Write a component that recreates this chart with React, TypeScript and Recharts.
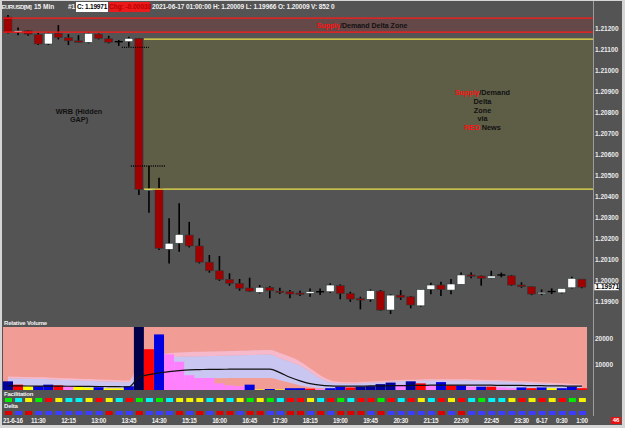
import React from "react";
import {
  ComposedChart,
  Bar,
  Area,
  Line,
  XAxis,
  YAxis,
  ReferenceArea,
  ReferenceLine,
  CartesianGrid,
  Cell,
} from "recharts";

const FONT = "'Liberation Sans', Arial, Helvetica, sans-serif";

// EURUSD 15 min, 2021-06-16 10:45 -> 2021-06-17 01:00 (58 bars)
const opens = [
  1.21257, 1.21186, 1.21192, 1.21174, 1.21129, 1.2118, 1.21159, 1.21144, 1.21137, 1.21176,
  1.21154, 1.2114, 1.2114, 1.21156, 1.20433, 1.20441, 1.20151, 1.2018, 1.20219, 1.20167,
  1.2009, 1.20049, 1.20008, 1.19989, 1.19967, 1.19946, 1.1997, 1.19952, 1.19949, 1.19943,
  1.19941, 1.19949, 1.19949, 1.19978, 1.19941, 1.19916, 1.19913, 1.19952, 1.19862, 1.19933,
  1.19925, 1.19882, 1.1996, 1.19981, 1.19957, 1.19984, 1.20029, 1.20024, 1.20014, 1.20029,
  1.20025, 1.19981, 1.19973, 1.19941, 1.1995, 1.19944, 1.19968, 1.20009,
];
const highs = [
  1.21267, 1.21207, 1.21195, 1.21182, 1.21186, 1.21219, 1.21176, 1.21171, 1.21186, 1.21179,
  1.21168, 1.21148, 1.21163, 1.21157, 1.20548, 1.20492, 1.20299, 1.2037, 1.20282, 1.20203,
  1.20124, 1.20119, 1.20037, 1.2001, 1.20016, 1.19981, 1.19976, 1.19968, 1.19957, 1.19954,
  1.19965, 1.19965, 1.19989, 1.19984, 1.19949, 1.19925, 1.1996, 1.19957, 1.19937, 1.19957,
  1.19929, 1.19962, 1.19992, 1.19997, 1.2001, 1.20041, 1.20041, 1.20026, 1.20049, 1.2004,
  1.20029, 1.19994, 1.19974, 1.1996, 1.19965, 1.19967, 1.20021, 1.20009,
];
const lows = [
  1.21179, 1.21171, 1.21168, 1.21124, 1.21124, 1.21151, 1.21124, 1.21135, 1.21132, 1.21151,
  1.21132, 1.2112, 1.21116, 1.2041, 1.20325, 1.20148, 1.20084, 1.2014, 1.2016, 1.20084,
  1.2004, 1.20001, 1.19978, 1.19954, 1.19949, 1.19941, 1.19918, 1.19938, 1.19918, 1.19929,
  1.19925, 1.19933, 1.19944, 1.19913, 1.19901, 1.19865, 1.19901, 1.19859, 1.19843, 1.1991,
  1.1987, 1.19878, 1.19937, 1.19929, 1.19937, 1.19981, 1.20013, 1.19978, 1.20013, 1.20018,
  1.19978, 1.19968, 1.19933, 1.19933, 1.19938, 1.19941, 1.19965, 1.19966,
];
const closes = [
  1.21183, 1.21192, 1.21176, 1.21129, 1.2118, 1.2116, 1.21144, 1.21137, 1.2118, 1.21156,
  1.21137, 1.21139, 1.21156, 1.20437, 1.20438, 1.20156, 1.2018, 1.20222, 1.20167, 1.2009,
  1.20049, 1.20008, 1.19989, 1.19965, 1.19952, 1.1997, 1.19954, 1.19946, 1.19938, 1.1994,
  1.19949, 1.19948, 1.19981, 1.19941, 1.19914, 1.1991, 1.19954, 1.19862, 1.19933, 1.19922,
  1.19886, 1.1996, 1.19981, 1.1996, 1.19986, 1.20029, 1.20027, 1.20013, 1.20024, 1.20028,
  1.19981, 1.19973, 1.19938, 1.19946, 1.19949, 1.19965, 1.20013, 1.19971,
];

const volumes = [
  3400, 2100, 1500, 1500, 2100, 1800, 1500, 1300, 900, 1100, 600, 600, 1500,
  24700, 16000, 21800, 14000, 11100, 5800, 4700, 4700, 2600, 1800, 1500, 2100,
  200, 400, 200, 700, 700, 500, 300, 700, 1300, 1000,
  1300, 1500, 2300, 2900, 2100, 3400, 2600, 1800, 3100, 1800, 1800, 1300, 1300, 1300,
  1000, 700, 1000, 700, 1000, 700, 700, 1300, 700,
];
// N navy, D dark navy, B blue, R red, V violet, Y yellow
const volumeKinds = "NRYBBRVYYBYYBDRBVVVVVVVVBYBYBBRVBBRNNNNVNRVBRBVBRVVBRBYBBR".split("");

const bandAvg = [
  1600, 1580, 1560, 1540, 1520, 1500, 1470, 1440, 1410, 1380, 1350, 1300, 1250,
  5000, 6000, 6700, 7200, 7600, 7900, 8000, 8100, 8100, 8150, 8200, 8200, 8200, 8200,
  6800, 5000, 3600, 2500, 1900, 1600,
  1500, 1500, 1500, 1600, 1600, 1700, 1700, 1800, 1800, 1900, 1900, 1900, 1900, 1900,
  1900, 1900, 1800, 1800, 1800, 1700, 1700, 1600, 1600, 1500, 1500,
];
const bandLavTop = [
  4600, 4500, 4400, 4300, 4200, 4050, 3900, 3750, 3600, 3450, 3300, 3150, 3000,
  9500, 11500, 12300, 12800, 13000, 13100, 13200, 13300, 13400, 13500, 13600, 13700, 13800, 13900,
  12400, 11100, 9500, 7200, 4600, 3000,
  2600, 2500, 2600, 2800, 3000, 3200, 3400, 3500, 3600, 3700, 3700, 3700, 3700, 3600,
  3500, 3400, 3300, 3100, 2900, 2700, 2500, 2300, 2100, 1900, 1700,
];
const bandPinkTop = [
  5300, 5200, 5100, 5000, 4900, 4750, 4600, 4450, 4300, 4150, 4000, 3850, 3700,
  10500, 12800, 13800, 14400, 14700, 14900, 15000, 15100, 15200, 15300, 15400, 15500, 15600, 15700,
  14500, 13000, 11200, 8500, 5800, 3800,
  3100, 3000, 3100, 3300, 3500, 3700, 3900, 4000, 4100, 4200, 4200, 4200, 4200, 4100,
  4000, 3900, 3800, 3600, 3400, 3200, 3000, 2800, 2600, 2400, 2200,
];
const bandLavBot = [
  500, 500, 500, 500, 500, 500, 500, 500, 500, 500, 500, 500, 500,
  2500, 3000, 3500, 3900, 4200, 4400, 4500, 4600, 4600, 4700, 4700, 4700, 4700, 4700,
  3800, 2800, 1800, 1100, 700, 500,
  500, 500, 500, 500, 500, 500, 500, 500, 500, 500, 500, 500, 500, 500,
  500, 500, 500, 500, 500, 500, 500, 500, 500, 500, 500,
];

// G green, C cyan, Y yellow, R red / B blue
const facilitation = ("GCYGRYCCYRYCRGCGCYYYCYCYGYGCR" + "RYCRGCRRGRCRYCRYRCGCCYRYRYRGY").split("");
const delta = ("RBRBBBBBBBRBBRBBBRBRBRRBRRBBR" + "RBRBRRRBRBBBBBRBRBBBBBBBBBBBB").split("");

const tickIndex = [0, 3, 6, 9, 12, 15, 18, 21, 24, 27, 30, 33, 36, 39, 42, 45, 48, 51, 53, 55, 57];
const tickText = [
  "21-6-16", "11:30", "12:15", "13:00", "13:45", "14:30", "15:15", "16:00", "16:45", "17:30",
  "18:15", "19:00", "19:45", "20:30", "21:15", "22:00", "22:45", "23:30", "6-17", "0:30", "1:00",
];
const priceTicks = [1.212, 1.211, 1.21, 1.209, 1.208, 1.207, 1.206, 1.205, 1.204, 1.203, 1.202, 1.201, 1.2, 1.199];
const volumeTicks = [10000, 20000];

const lastClose = 1.19971;
const supplyZone = [1.21186, 1.21252];
const deltaZone = [1.20438, 1.21152];
const zoneStart = 13.5;
const dottedLevels = [
  { y: 1.21113, from: 11.3, to: 14 },
  { y: 1.20548, from: 12.2, to: 15.6 },
];

const X_DOMAIN: [number, number] = [-0.5, 58.1];

const candles = opens.map((o, i) => ({ i, o, h: highs[i], l: lows[i], c: closes[i] }));
const volData = volumes.map((v, i) => ({
  i,
  v,
  avg: bandAvg[i],
  lav: [bandLavBot[i], bandLavTop[i]],
  pink: [bandLavTop[i], bandPinkTop[i]],
}));
const rowData = facilitation.map((f, i) => ({ i, one: 1, f, d: delta[i] }));

const volColor: Record<string, string> = {
  N: "#00009a",
  D: "#00004a",
  B: "#0000e0",
  R: "#ff0000",
  V: "#ff80ff",
  Y: "#ffff00",
};
const facColor: Record<string, string> = { G: "#00ee00", C: "#00f4f4", Y: "#f4f400", R: "#ff0000" };
const deltaColor: Record<string, string> = { R: "#dd0000", B: "#3c3cff" };

function Candle(props: any) {
  const { x, y, width, height, payload } = props;
  if (!payload) return null;
  const { o, h, l, c } = payload;
  const top = Math.min(y, y + height);
  const span = Math.abs(height);
  const py = (p: number) => (h === l ? top : top + ((h - p) / (h - l)) * span);
  const cx = x + width / 2;
  const up = c >= o;
  const bTop = py(Math.max(o, c));
  const bBot = py(Math.min(o, c));
  const doji = Math.abs(o - c) <= 0.00002;
  return (
    <g>
      <line x1={cx} x2={cx} y1={top} y2={top + span} stroke="#000" strokeWidth={1.6} />
      {doji ? (
        <line x1={x} x2={x + width} y1={bTop} y2={bTop} stroke="#000" strokeWidth={1.4} />
      ) : (
        <rect
          x={x}
          y={bTop}
          width={width}
          height={Math.max(1.4, bBot - bTop)}
          fill={up ? "#ffffff" : "#a00000"}
          stroke="#2e3a3a"
          strokeWidth={0.6}
        />
      )}
    </g>
  );
}

function PriceTick(props: any) {
  const { y, payload } = props;
  const v = payload.value;
  if (v === lastClose) {
    return (
      <g>
        <rect x={594} y={y - 3.6} width={25} height={7.2} fill="#fff" stroke="#222" strokeWidth={0.5} />
        <text x={595.5} y={y} dy="0.35em" fontSize={6.5} fontWeight={700} fill="#000" fontFamily={FONT}>
          {v.toFixed(5)}
        </text>
      </g>
    );
  }
  return (
    <text x={595} y={y} dy="0.35em" fontSize={6.5} fontWeight={700} fill="#ececec" fontFamily={FONT}>
      {v.toFixed(5)}
    </text>
  );
}

function VolTick(props: any) {
  const { y, payload } = props;
  return (
    <text x={595} y={y} dy="0.35em" fontSize={6.5} fontWeight={700} fill="#ececec" fontFamily={FONT}>
      {payload.value}
    </text>
  );
}

function TimeTick(props: any) {
  const { x, payload } = props;
  const k = tickIndex.indexOf(payload.value);
  const first = k === 0;
  return (
    <text
      x={first ? 3 : x}
      y={12.3}
      textAnchor={first ? "start" : "middle"}
      fontSize={6.3}
      fontWeight={700}
      letterSpacing={-0.3}
      fill="#f0f0f0"
      fontFamily={FONT}
    >
      {tickText[k]}
    </text>
  );
}

function Txt({ x, cy, size = 6.5, bold = true, color = "#f2f2f2", center = false, spacing = 0, children }: any) {
  const h = size * 1.4;
  const style: React.CSSProperties = {
    position: "absolute",
    top: cy - h / 2 - 1,
    height: h,
    lineHeight: `${h}px`,
    fontSize: size,
    fontWeight: bold ? 700 : 400,
    color,
    fontFamily: FONT,
    whiteSpace: "nowrap",
    letterSpacing: spacing,
  };
  if (center) {
    style.left = x - 2 - 100;
    style.width = 200;
    style.textAlign = "center";
  } else {
    style.left = x - 2;
  }
  return <div style={style}>{children}</div>;
}

const at = (top: number): React.CSSProperties => ({ position: "absolute", left: -2, top: top - 1 });

export default function App() {
  return (
    <div
      style={{
        position: "fixed",
        left: 0,
        top: 0,
        width: 625,
        height: 428,
        background: "#d6d6d6",
        overflow: "hidden",
      }}
    >
      <div
        style={{
          position: "absolute",
          left: 2,
          top: 1,
          width: 620,
          height: 424,
          background: "#545454",
          overflow: "hidden",
        }}
      >
        {/* price panel */}
        <div style={at(2)}>
          <ComposedChart width={625} height={316} data={candles} margin={{ top: 0, right: 0, bottom: 0, left: 3 }}>
            <XAxis dataKey="i" type="number" domain={X_DOMAIN} allowDataOverflow hide />
            <YAxis
              orientation="right"
              width={32}
              type="number"
              domain={[1.19824, 1.21329]}
              allowDataOverflow
              ticks={[...priceTicks, lastClose]}
              interval={0}
              tick={<PriceTick />}
              tickLine={false}
              axisLine={false}
            />
            <ReferenceArea y1={supplyZone[0]} y2={supplyZone[1]} fill="#654848" fillOpacity={1} zIndex={-10} />
            <ReferenceArea
              x1={zoneStart}
              y1={deltaZone[0]}
              y2={deltaZone[1]}
              fill="#5e5d46"
              fillOpacity={1}
              zIndex={-10}
            />
            <ReferenceLine y={supplyZone[0]} stroke="#ff1818" strokeWidth={1.3} />
            <ReferenceLine y={supplyZone[1]} stroke="#ff1818" strokeWidth={1.3} />
            <ReferenceLine
              segment={[
                { x: zoneStart, y: deltaZone[1] },
                { x: X_DOMAIN[1], y: deltaZone[1] },
              ]}
              stroke="#ece34a"
              strokeWidth={1.2}
            />
            <ReferenceLine
              segment={[
                { x: zoneStart, y: deltaZone[0] },
                { x: X_DOMAIN[1], y: deltaZone[0] },
              ]}
              stroke="#ece34a"
              strokeWidth={1.2}
            />
            <Bar
              dataKey={(d: any) => [d.l, d.h]}
              barSize={8}
              isAnimationActive={false}
              shape={(p: any) => <Candle {...p} />}
            />
            {dottedLevels.map((d, k) => (
              <ReferenceLine
                key={k}
                segment={[
                  { x: d.from, y: d.y },
                  { x: d.to, y: d.y },
                ]}
                stroke="#000"
                strokeWidth={1.4}
                strokeDasharray="1 1.2"
              />
            ))}
          </ComposedChart>
        </div>

        {/* relative volume panel */}
        <div style={at(327)}>
          <ComposedChart width={625} height={63} data={volData} margin={{ top: 0, right: 0, bottom: 0, left: 3 }}>
            <CartesianGrid fill="#f29c96" horizontal={false} vertical={false} />
            <XAxis dataKey="i" type="number" domain={[-0.5, 57.5]} allowDataOverflow hide />
            <YAxis
              orientation="right"
              width={38}
              type="number"
              domain={[0, 24700]}
              allowDataOverflow
              ticks={volumeTicks}
              interval={0}
              tick={<VolTick />}
              tickLine={false}
              axisLine={false}
            />
            <Area
              dataKey="pink"
              type="monotone"
              stroke="none"
              fill="#f6b9cb"
              fillOpacity={1}
              isAnimationActive={false}
            />
            <Area
              dataKey="lav"
              type="monotone"
              stroke="none"
              fill="#cac6f2"
              fillOpacity={1}
              isAnimationActive={false}
            />
            <Line
              dataKey="avg"
              type="monotone"
              stroke="#111"
              strokeWidth={1.2}
              dot={false}
              isAnimationActive={false}
            />
            <Bar dataKey="v" barSize={10} isAnimationActive={false}>
              {volData.map((d, k) => (
                <Cell key={k} fill={volColor[volumeKinds[k]]} />
              ))}
            </Bar>
          </ComposedChart>
        </div>

        {/* facilitation row */}
        <div style={at(398)}>
          <ComposedChart width={625} height={4} data={rowData} margin={{ top: 0, right: 32, bottom: 0, left: 3 }}>
            <XAxis dataKey="i" type="number" domain={X_DOMAIN} allowDataOverflow hide />
            <YAxis hide domain={[0, 1]} />
            <Bar dataKey="one" barSize={7} isAnimationActive={false}>
              {rowData.map((d, k) => (
                <Cell key={k} fill={facColor[d.f]} />
              ))}
            </Bar>
          </ComposedChart>
        </div>

        {/* delta row + time axis */}
        <div style={at(410.5)}>
          <ComposedChart width={625} height={18} data={rowData} margin={{ top: 0, right: 32, bottom: 0, left: 3 }}>
            <XAxis
              dataKey="i"
              type="number"
              domain={X_DOMAIN}
              allowDataOverflow
              ticks={tickIndex}
              interval={0}
              height={14}
              tick={<TimeTick />}
              tickLine={false}
              axisLine={false}
            />
            <YAxis hide domain={[0, 1]} />
            <Bar dataKey="one" barSize={7} isAnimationActive={false}>
              {rowData.map((d, k) => (
                <Cell key={k} fill={deltaColor[d.d]} />
              ))}
            </Bar>
          </ComposedChart>
        </div>

        {/* header */}
        <Txt x={1.5} cy={6.7} size={6} spacing={-0.5}>EURUSD[M]</Txt>
        <Txt x={34} cy={6.7}>15 Min</Txt>
        <Txt x={68} cy={6.7}>#1</Txt>
        <div
          style={{
            position: "absolute",
            left: 74,
            top: 1,
            width: 32,
            height: 10,
            background: "#fff",
            color: "#000",
            fontFamily: FONT,
            fontWeight: 700,
            fontSize: 6.5,
            lineHeight: "10px",
            textAlign: "center",
            whiteSpace: "nowrap",
            letterSpacing: -0.2,
          }}
        >
          C: 1.19971
        </div>
        <div
          style={{
            position: "absolute",
            left: 107,
            top: 1,
            width: 41,
            height: 10,
            background: "#ec1a1a",
            color: "#b80000",
            fontFamily: FONT,
            fontWeight: 700,
            fontSize: 6.5,
            lineHeight: "10px",
            textAlign: "center",
            whiteSpace: "nowrap",
          }}
        >
          Chg: -0.00038
        </div>
        <Txt x={152} cy={6.7} spacing={-0.1}>
          2021-06-17 01:00:00 H: 1.20009 L: 1.19966 O: 1.20009 V: 852 0
        </Txt>

        {/* annotations */}
        <Txt x={316.7} cy={25.7} size={7} color="#111">
          <span style={{ color: "#ff1010" }}>Supply</span>/Demand Delta Zone
        </Txt>
        <Txt x={79} cy={111.7} size={7.3} color="#111" center>WRB (Hidden</Txt>
        <Txt x={79} cy={120.2} size={7.3} color="#111" center>GAP)</Txt>
        <Txt x={482.5} cy={93.3} size={7.3} color="#111" center>
          <span style={{ color: "#ff1010" }}>Supply</span>/Demand
        </Txt>
        <Txt x={482.5} cy={102.1} size={7.3} color="#111" center>Delta</Txt>
        <Txt x={482.5} cy={110.9} size={7.3} color="#111" center>Zone</Txt>
        <Txt x={482.5} cy={119.6} size={7.3} color="#111" center>via</Txt>
        <Txt x={482.5} cy={128.3} size={7.3} color="#111" center>
          <span style={{ color: "#ff1010" }}>RED</span> News
        </Txt>

        {/* panel labels */}
        <Txt x={4} cy={323.5} size={6} spacing={-0.2}>Relative Volume</Txt>
        <Txt x={4} cy={394} size={6} spacing={-0.2}>Facilitation</Txt>
        <Txt x={4} cy={406.5} size={6} spacing={-0.2}>Delta</Txt>

        {/* right separator and counter */}
        <div style={{ position: "absolute", left: 591, top: 0, width: 1, height: 415, background: "#9c9c9c" }} />
        <div
          style={{
            position: "absolute",
            left: 609,
            top: 415.5,
            width: 10,
            height: 7.5,
            background: "#e81010",
            color: "#fff",
            fontFamily: FONT,
            fontWeight: 700,
            fontSize: 6,
            lineHeight: "7.5px",
            textAlign: "center",
          }}
        >
          46
        </div>
      </div>
    </div>
  );
}
